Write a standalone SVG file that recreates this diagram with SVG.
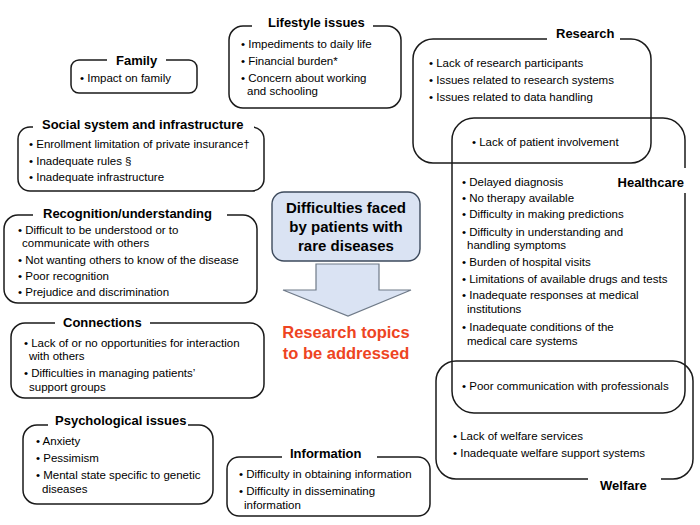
<svg xmlns="http://www.w3.org/2000/svg" width="700" height="525" viewBox="0 0 700 525">
<style>
.box{fill:none;stroke:#1a1a1a;stroke-width:1.5}
.gap{fill:#ffffff;stroke:none}
.t{font-family:"Liberation Sans",Arial,sans-serif;font-size:13px;font-weight:bold;fill:#000}
.b{font-family:"Liberation Sans",Arial,sans-serif;font-size:11.5px;fill:#000}
.c{font-family:"Liberation Sans",Arial,sans-serif;font-size:15px;font-weight:bold;fill:#000;text-anchor:middle}
.r{font-family:"Liberation Sans",Arial,sans-serif;font-size:16.5px;font-weight:bold;fill:#ee4422;text-anchor:middle}
</style>
<rect width="700" height="525" fill="#ffffff"/>

<g id="research">
<rect class="box" x="413" y="39" width="238" height="124" rx="20"/>
<rect class="gap" x="547" y="30" width="73" height="14"/>
<text class="t" x="556" y="38">Research</text>
<text class="b" x="429" y="67">• Lack of research participants</text>
<text class="b" x="429" y="84">• Issues related to research systems</text>
<text class="b" x="429" y="101">• Issues related to data handling</text>
</g>

<g id="welfare">
<rect class="box" x="436" y="361" width="257" height="118" rx="20"/>
<rect class="gap" x="588" y="474" width="73" height="12"/>
<text class="t" x="600" y="490">Welfare</text>
<text class="b" x="453" y="440">• Lack of welfare services</text>
<text class="b" x="453" y="457">• Inadequate welfare support systems</text>
</g>

<g id="healthcare">
<rect class="box" x="452" y="118" width="233" height="295" rx="22"/>
<rect class="gap" x="680" y="168" width="10" height="25"/>
<text class="t" x="684" y="187" text-anchor="end">Healthcare</text>
<text class="b" x="472" y="146">• Lack of patient involvement</text>
<text class="b" x="462" y="186">• Delayed diagnosis</text>
<text class="b" x="462" y="202">• No therapy available</text>
<text class="b" x="462" y="218">• Difficulty in making predictions</text>
<text class="b" x="462" y="236">• Difficulty in understanding and</text>
<text class="b" x="467" y="249">handling symptoms</text>
<text class="b" x="462" y="266">• Burden of hospital visits</text>
<text class="b" x="462" y="283">• Limitations of available drugs and tests</text>
<text class="b" x="462" y="299">• Inadequate responses at medical</text>
<text class="b" x="467" y="313">institutions</text>
<text class="b" x="462" y="331">• Inadequate conditions of the</text>
<text class="b" x="467" y="345">medical care systems</text>
<text class="b" x="462" y="390">• Poor communication with professionals</text>
</g>

<g id="family">
<rect class="box" x="71" y="60" width="126" height="33" rx="8"/>
<rect class="gap" x="107" y="54" width="59" height="12"/>
<text class="t" x="116" y="65">Family</text>
<text class="b" x="80" y="82">• Impact on family</text>
</g>

<g id="lifestyle">
<rect class="box" x="229" y="26" width="172" height="82" rx="14"/>
<rect class="gap" x="252" y="18" width="121" height="14"/>
<text class="t" x="268" y="27">Lifestyle issues</text>
<text class="b" x="241" y="48">• Impediments to daily life</text>
<text class="b" x="241" y="65">• Financial burden*</text>
<text class="b" x="241" y="82">• Concern about working</text>
<text class="b" x="247" y="95">and schooling</text>
</g>

<g id="social">
<rect class="box" x="18" y="127" width="246" height="64" rx="12"/>
<rect class="gap" x="33" y="119" width="221" height="14"/>
<text class="t" x="42" y="129">Social system and infrastructure</text>
<text class="b" x="29" y="148">• Enrollment limitation of private insurance†</text>
<text class="b" x="29" y="165">• Inadequate rules §</text>
<text class="b" x="29" y="181">• Inadequate infrastructure</text>
</g>

<g id="recognition">
<rect class="box" x="4" y="215" width="253" height="88" rx="14"/>
<rect class="gap" x="33" y="207" width="194" height="14"/>
<text class="t" x="43" y="218">Recognition/understanding</text>
<text class="b" x="18" y="234">• Difficult to be understood or to</text>
<text class="b" x="22" y="247">communicate with others</text>
<text class="b" x="18" y="264">• Not wanting others to know of the disease</text>
<text class="b" x="18" y="280">• Poor recognition</text>
<text class="b" x="18" y="296">• Prejudice and discrimination</text>
</g>

<g id="connections">
<rect class="box" x="11" y="323" width="253" height="75" rx="14"/>
<rect class="gap" x="55" y="315" width="95" height="14"/>
<text class="t" x="63" y="327">Connections</text>
<text class="b" x="24" y="347">• Lack of or no opportunities for interaction</text>
<text class="b" x="29" y="360">with others</text>
<text class="b" x="24" y="377">• Difficulties in managing patients’</text>
<text class="b" x="29" y="391">support groups</text>
</g>

<g id="psychological">
<rect class="box" x="23" y="425" width="190" height="79" rx="14"/>
<rect class="gap" x="48" y="417" width="140" height="14"/>
<text class="t" x="55" y="425">Psychological issues</text>
<text class="b" x="36" y="445">• Anxiety</text>
<text class="b" x="36" y="462">• Pessimism</text>
<text class="b" x="36" y="479">• Mental state specific to genetic</text>
<text class="b" x="42" y="493">diseases</text>
</g>

<g id="information">
<rect class="box" x="227" y="457" width="203" height="59" rx="12"/>
<rect class="gap" x="282" y="449" width="95" height="14"/>
<text class="t" x="290" y="458">Information</text>
<text class="b" x="239" y="478">• Difficulty in obtaining information</text>
<text class="b" x="239" y="495">• Difficulty in disseminating</text>
<text class="b" x="244" y="509">information</text>
</g>

<g id="center">
<rect x="272" y="192" width="148" height="69" rx="12" fill="#dae3f3" stroke="#3d4a5c" stroke-width="1.4"/>
<text class="c" x="346" y="213">Difficulties faced</text>
<text class="c" x="346" y="232">by patients with</text>
<text class="c" x="346" y="251">rare diseases</text>
</g>

<g id="connectors">
<polygon points="316,264 379,264 379,290 411,290 348,316 283,290 316,290" fill="#dae3f3" stroke="#6f7a88" stroke-width="1.2"/>
</g>

<g id="topics">
<text class="r" x="346" y="338">Research topics</text>
<text class="r" x="346" y="359">to be addressed</text>
</g>
</svg>
